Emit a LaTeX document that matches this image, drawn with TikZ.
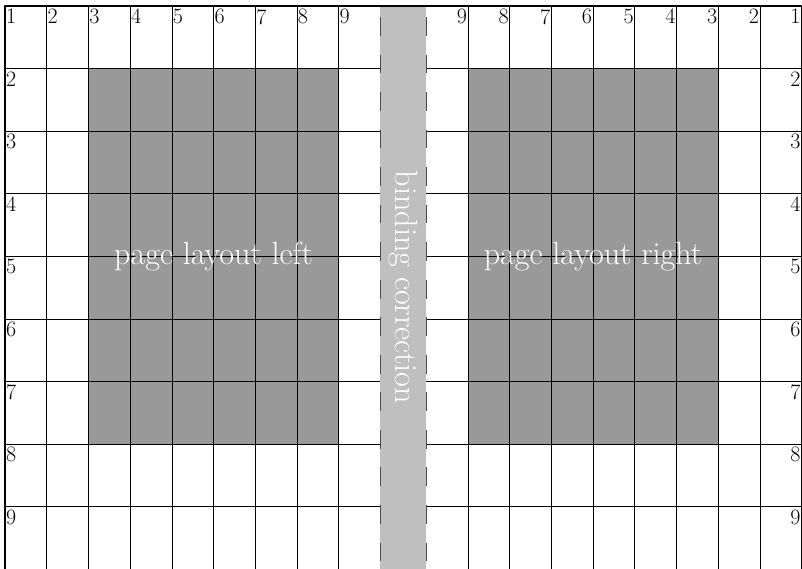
\documentclass[tikz,border=0pt]{standalone}
\usepackage{tikz}
\begin{document}
\begin{tikzpicture}[font=\fontsize{15}{18}\selectfont,line join=round,
		typearea/.style={fill=black!40},
		bindingstrip/.style={fill=black!25},
		bindingedge/.style={draw=black!70,thick,line cap=butt,dash pattern=on 0.45cm off 0.45cm,dash phase=0.636cm},
		pagelabel/.style={text=white,font=\fontsize{21.9}{26}\selectfont},
		gridnum/.style={inner xsep=0.5pt,inner ysep=2pt}]
			\useasboundingbox (-0.12,0.144) rectangle (19.11,-13.49);
			
			% type areas and binding
			\fill[typearea] (2,-1.5) rectangle (8,-10.5);
			\fill[typearea] (11.1,-1.5) rectangle (17.1,-10.5);
			\fill[bindingstrip] (9,0) rectangle (10.1,-13.5);
			
			% the two grids, open towards the binding
			\draw (0,-13.5) grid[xstep=1,ystep=1.5] (8.999,0);
			\draw[xshift=10.1cm] (0.001,-13.5) grid[xstep=1,ystep=1.5] (9,0);
			\draw[thick] (0,-13.5) -- (0,0) -- (19.11,0);
			
			\draw[bindingedge] (9,0) -- (9,-13.5);
			\draw[bindingedge] (10.1,0) -- (10.1,-13.5);
			
			% column and row numbers
			\foreach \i in {1,...,9} {
				\node[gridnum,anchor=north west] (lcol\i) at (\i-1,0) {\i};
				\node[gridnum,anchor=north east] (rcol\i) at (20.1-\i,0) {\i};
			}
			\foreach \j in {2,...,9} {
				\node[gridnum,anchor=north west] (lrow\j) at (0,{-1.5*(\j-1)}) {\j};
				\node[gridnum,anchor=north east] (rrow\j) at (19.1,{-1.5*(\j-1)}) {\j};
			}
			
			\node[pagelabel] (leftpage) at (5,-6) {page layout left};
			\node[pagelabel] (rightpage) at (14.1,-6) {page layout right};
			\node[pagelabel,rotate=-90] (binding) at (9.55,-6.75) {binding correction};
		\end{tikzpicture}
\end{document}
